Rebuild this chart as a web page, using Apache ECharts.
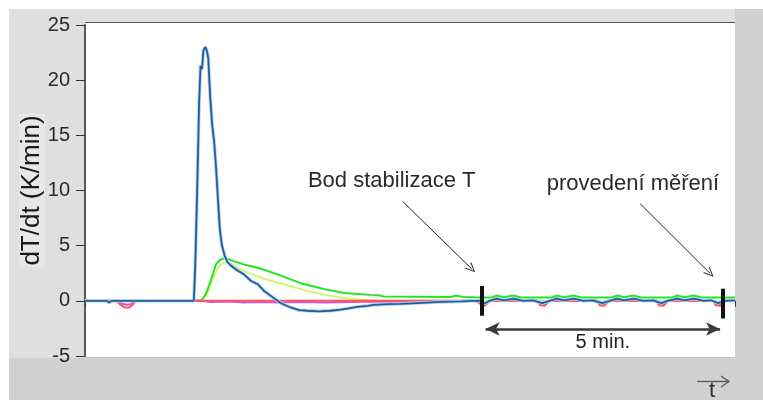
<!DOCTYPE html>
<html>
<head>
<meta charset="utf-8">
<script src="https://cdn.jsdelivr.net/npm/echarts@6/dist/echarts.min.js"></script>
<style>
  html, body { margin: 0; padding: 0; background: #ffffff; }
  #chart { width: 763px; height: 400px; }
</style>
</head>
<body>
<div id="chart"></div>
<script>
// Time axis in minutes, dT/dt in K/min
const timeRange = [0, 13.5];
const yRange = [-5, 25];
const yStep = 5;

// Sample thermocouple (blue): sharp exothermic peak, undershoot, then steady state
const blueCurve = [
  [0, 0], [0.45, 0], [0.5, -0.15], [0.56, 0], [2.26, 0], [2.29, 3.2], [2.33, 10], [2.37, 18],
  [2.40, 21.3], [2.43, 21.0], [2.46, 22.7], [2.50, 23.0], [2.53, 22.7], [2.56, 22.0], [2.60, 18.5],
  [2.64, 16.0], [2.68, 14.5], [2.72, 12.2], [2.76, 9.3], [2.80, 6.5], [2.84, 5.1], [2.90, 4.1],
  [2.96, 3.5], [3.03, 3.2], [3.15, 2.8], [3.30, 2.4], [3.45, 1.8], [3.59, 1.5], [3.72, 0.9],
  [3.86, 0.45], [4.0, 0.0], [4.06, -0.2], [4.27, -0.6], [4.45, -0.85], [4.62, -0.9], [4.85, -0.95],
  [5.10, -0.9], [5.30, -0.8], [5.45, -0.7], [5.65, -0.55], [5.87, -0.45], [6.0, -0.36], [6.3, -0.3],
  [6.55, -0.27], [7.0, -0.18], [7.38, -0.1], [7.8, -0.05], [8.07, 0],
  [8.2, 0], [8.3, -0.25], [8.4, 0], [8.55, 0.2], [8.7, 0.05], [8.9, 0.2], [9.1, 0], [9.3, 0.05],
  [9.5, -0.2], [9.65, 0], [9.8, 0.2], [9.95, 0.05], [10.15, 0.2], [10.35, 0], [10.55, 0.05],
  [10.74, -0.2], [10.9, 0], [11.05, 0.2], [11.2, 0.05], [11.4, 0.2], [11.6, 0], [11.8, 0.05],
  [11.97, -0.2], [12.1, 0], [12.3, 0.2], [12.45, 0.05], [12.65, 0.2], [12.85, 0], [13.0, 0.05],
  [13.15, -0.2], [13.3, 0], [13.5, 0.05]
];

// Reference thermocouple (green): slower, broader response
const greenCurve = [
  [0, 0], [2.41, 0], [2.51, 0.6], [2.61, 1.8], [2.72, 3.3], [2.80, 3.7], [2.88, 3.85], [3.0, 3.75],
  [3.09, 3.6], [3.3, 3.3], [3.59, 3.0], [4.0, 2.4], [4.48, 1.6], [4.96, 1.08], [5.37, 0.72],
  [5.93, 0.54], [6.1, 0.5], [6.2, 0.4], [7.0, 0.38], [7.6, 0.35], [7.7, 0.48], [7.85, 0.35],
  [8.1, 0.32], [8.3, 0.3], [8.45, 0.3], [8.55, 0.48], [8.7, 0.32], [8.9, 0.48], [9.05, 0.3],
  [9.7, 0.3], [9.8, 0.48], [9.95, 0.32], [10.15, 0.48], [10.3, 0.3], [10.95, 0.3], [11.05, 0.48],
  [11.2, 0.32], [11.4, 0.48], [11.55, 0.3], [12.2, 0.3], [12.3, 0.48], [12.45, 0.32], [12.65, 0.48],
  [12.8, 0.3], [13.5, 0.3]
];

// Third channel (yellow-green): lower, faster decay
const yellowCurve = [
  [0, 0], [2.43, 0], [2.55, 0.8], [2.65, 1.9], [2.75, 2.9], [2.82, 3.3], [2.92, 3.5], [3.05, 3.3],
  [3.30, 2.7], [3.71, 2.0], [4.13, 1.5], [4.62, 0.9], [5.10, 0.45], [5.52, 0.18], [5.93, 0.05],
  [6.3, 0], [13.5, 0]
];

// Red channel: flat with periodic dips
const redCurve = [
  [0, 0], [0.66, 0], [0.72, -0.3], [0.82, -0.6], [0.92, -0.6], [1.0, -0.3], [1.06, 0],
  [8.16, 0], [8.22, -0.35], [8.30, -0.45], [8.38, -0.1], [8.44, 0],
  [9.40, 0], [9.45, -0.4], [9.55, -0.45], [9.61, 0],
  [10.64, 0], [10.69, -0.4], [10.79, -0.45], [10.85, 0],
  [11.87, 0], [11.92, -0.4], [12.02, -0.45], [12.08, 0],
  [13.05, 0], [13.10, -0.4], [13.20, -0.45], [13.26, 0], [13.5, 0]
];

// Magenta channel: slight offset below zero, shallow dips
const magentaCurve = [
  [0, 0], [0.7, 0], [0.76, -0.25], [0.85, -0.35], [0.95, -0.3], [1.02, 0], [2.4, 0],
  [2.6, -0.1], [3.0, -0.05], [3.3, -0.15], [3.6, -0.1], [4.0, -0.15], [4.5, -0.1], [5.0, -0.15],
  [5.5, -0.1], [6.0, -0.05], [6.5, -0.1], [7.0, -0.05], [8.1, 0],
  [8.2, -0.2], [8.3, -0.3], [8.4, -0.05], [8.5, 0],
  [9.4, 0], [9.45, -0.3], [9.58, -0.3], [9.64, 0],
  [10.64, 0], [10.69, -0.3], [10.82, -0.3], [10.88, 0],
  [11.87, 0], [11.92, -0.3], [12.05, -0.3], [12.11, 0],
  [13.05, 0], [13.10, -0.3], [13.22, -0.3], [13.28, 0], [13.5, 0]
];

// Stabilisation point and end of measurement (minutes), and bar extents (K/min)
const markerTimes = [8.25, 13.25];
const markerBarsY = [[-1.35, 1.35], [-1.6, 1.1]];
const spanArrow = { from: 8.32, to: 13.19, y: -2.55, text: '5 min.' };

// Callout texts and their pointer lines (data coordinates)
const callouts = [
  { text: 'Bod stabilizace T', at: [6.37, 10.85], from: [6.6, 9.0], to: [8.03, 2.9] },
  { text: 'provedení měření', at: [11.38, 10.6], from: [11.53, 8.8], to: [12.98, 2.5] }
];

const chevron = 'path://M5,0 L10,10 L8.8,10 L5,2.2 L1.2,10 L0,10 Z';
const labelFont = 'Liberation Sans, Arial, sans-serif';

const chart = echarts.init(document.getElementById('chart'), null, { renderer: 'canvas' });

const markLineData = [];
markerTimes.forEach((t, i) => {
  markLineData.push([
    { coord: [t, markerBarsY[i][0]], symbol: 'none', lineStyle: { color: '#111', width: 4, type: 'solid' }, label: { show: false } },
    { coord: [t, markerBarsY[i][1]], symbol: 'none' }
  ]);
});
markLineData.push([
  {
    coord: [spanArrow.from, spanArrow.y], symbol: 'arrow', symbolSize: [10, 14],
    lineStyle: { color: '#3a3a3a', width: 2.5, type: 'solid' },
    label: { show: true, formatter: spanArrow.text, position: 'insideMiddleBottom', distance: 4, fontSize: 20, color: '#222', fontFamily: labelFont }
  },
  { coord: [spanArrow.to, spanArrow.y], symbol: 'arrow', symbolSize: [10, 14] }
]);
callouts.forEach(c => {
  markLineData.push([
    { coord: c.from, symbol: 'none', lineStyle: { color: '#222', width: 1, type: 'solid' }, label: { show: false } },
    { coord: c.to, symbol: chevron, symbolSize: [9, 10] }
  ]);
});

const option = {
  backgroundColor: '#ffffff',
  animation: false,
  grid: { left: 85, right: 28, top: 25, bottom: 44, containLabel: false },
  xAxis: {
    type: 'value', min: timeRange[0], max: timeRange[1], interval: timeRange[1] - timeRange[0],
    offset: 6,
    axisLine: { show: false },
    axisTick: { show: true, length: 6, lineStyle: { color: '#333', width: 1 } },
    axisLabel: { show: false },
    splitLine: { show: false }
  },
  yAxis: {
    type: 'value', min: yRange[0], max: yRange[1], interval: yStep,
    name: 'dT/dt (K/min)', nameLocation: 'middle', nameGap: 40, nameRotate: 90,
    nameMoveOverlap: false,
    nameTextStyle: { fontSize: 26, color: '#1a1a1a', fontFamily: labelFont, backgroundColor: '#e7e7e7', padding: [0, 2] },
    axisLine: { show: true, lineStyle: { color: '#5a5a5a', width: 2 } },
    axisTick: { show: true, length: 9, lineStyle: { color: '#333', width: 1 } },
    axisLabel: { fontSize: 20, color: '#2a2a2a', margin: 15, fontFamily: labelFont },
    splitLine: { show: false }
  },
  graphic: [
    { type: 'rect', z: -30, silent: true, shape: { x: 9, y: 9, width: 754, height: 391 }, style: { fill: '#d1d1d1' } },
    { type: 'rect', z: -29, silent: true, shape: { x: 9, y: 9, width: 726, height: 349 }, style: { fill: '#dfdfdf' } },
    { type: 'rect', z: -28, silent: true, shape: { x: 85, y: 22, width: 650, height: 335 }, style: { fill: '#ffffff' } },
    { type: 'line', z: 5, silent: true, shape: { x1: 85, y1: 22.5, x2: 735, y2: 22.5 }, style: { stroke: '#555', lineWidth: 1 } },
    { type: 'line', z: 5, silent: true, shape: { x1: 85, y1: 357.5, x2: 735, y2: 357.5 }, style: { stroke: '#c2c2c2', lineWidth: 1 } },
    { type: 'line', z: 5, silent: true, shape: { x1: 697, y1: 381.5, x2: 729, y2: 381.5 }, style: { stroke: '#555', lineWidth: 1.3 } },
    { type: 'polyline', z: 5, silent: true, shape: { points: [[721, 376], [729, 381.5], [721, 387]] }, style: { stroke: '#555', lineWidth: 1.3, fill: null } },
    { type: 'text', z: 5, silent: true, x: 709, y: 380, style: { text: 't', fontSize: 22, fill: '#333', font: '22px Liberation Sans, Arial, sans-serif' } }
  ],
  series: [
    {
      type: 'line', data: yellowCurve, showSymbol: false, z: 2,
      lineStyle: { color: '#d2f57a', width: 2 }
    },
    {
      type: 'line', data: greenCurve, showSymbol: false, z: 3,
      lineStyle: { color: '#22e622', width: 2 }
    },
    {
      type: 'line', data: magentaCurve, showSymbol: false, z: 4,
      lineStyle: { color: '#c655f0', width: 2 }
    },
    {
      type: 'line', data: redCurve, showSymbol: false, z: 5,
      lineStyle: { color: '#ff5555', width: 2 }
    },
    {
      type: 'line', data: blueCurve, showSymbol: false, z: 6,
      lineStyle: { color: '#b8d3ee', width: 3.5 }
    },
    {
      type: 'line', data: blueCurve, showSymbol: false, z: 7,
      lineStyle: { color: '#1d5e9f', width: 1.8 }
    },
    {
      // annotation layer drawn above all curves
      type: 'line', data: [], z: 10, silent: true,
      markLine: {
        z: 10, silent: true, animation: false, symbol: ['none', 'none'],
        label: { show: false },
        data: markLineData
      },
      markPoint: {
        z: 10, silent: true, animation: false, symbol: 'circle', symbolSize: 0,
        label: { show: true, position: 'inside', formatter: '{b}', fontSize: 22, color: '#2a2a2a', fontFamily: labelFont },
        data: callouts.map(c => ({ name: c.text, coord: c.at }))
      }
    }
  ]
};

chart.setOption(option);
</script>
</body>
</html>
